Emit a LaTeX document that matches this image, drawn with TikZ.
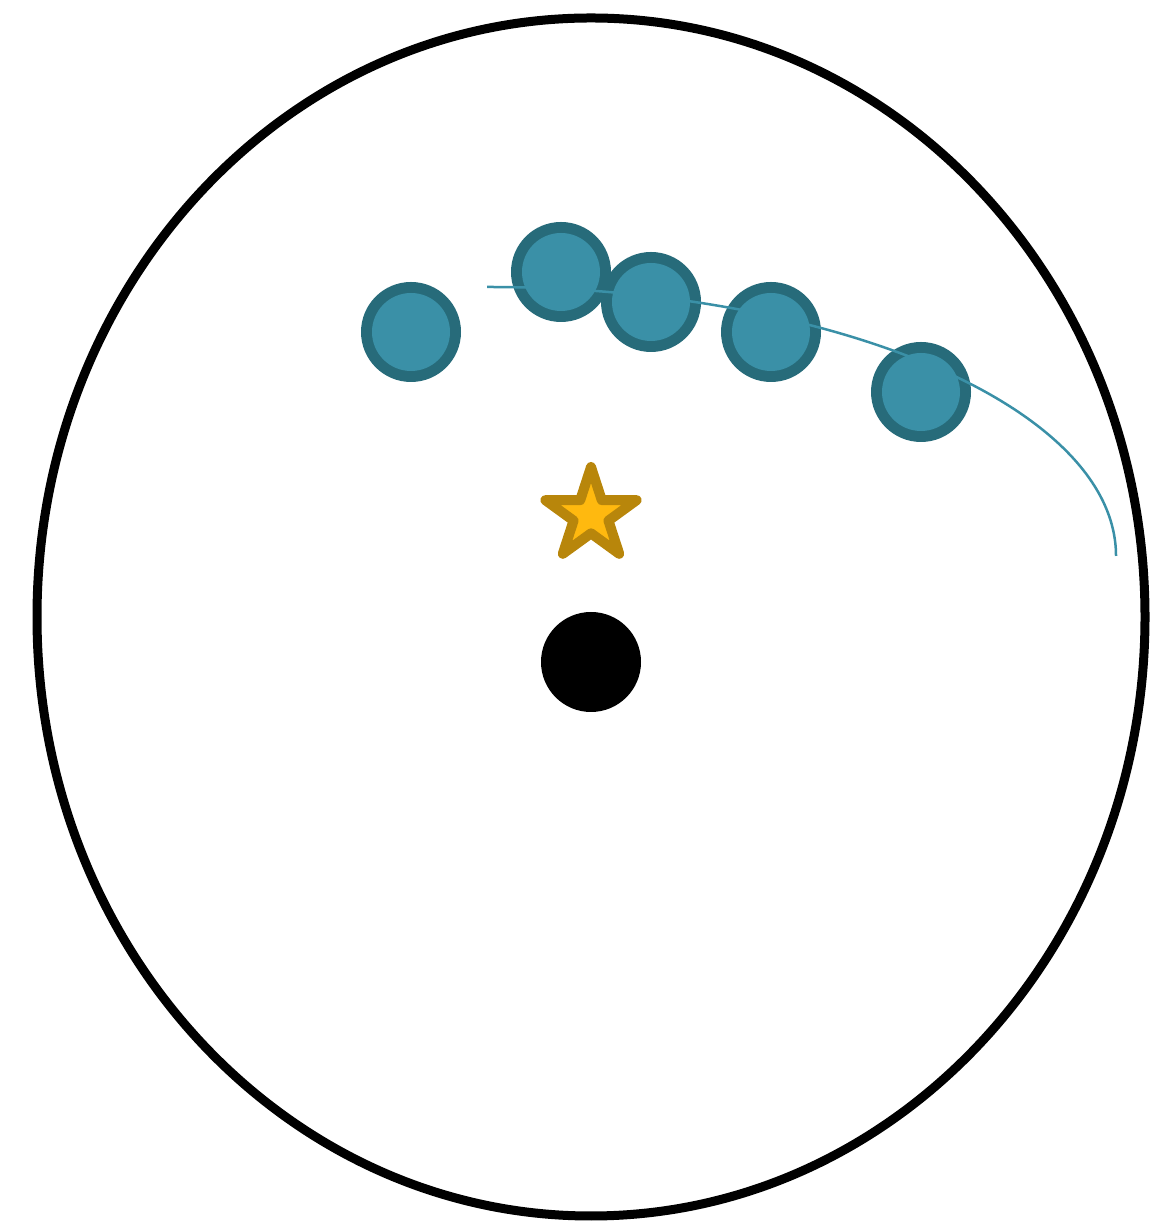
\documentclass[tikz,border=0pt]{standalone}
\usetikzlibrary{shapes.geometric}
\definecolor{tealdark}{HTML}{276B7A}
\definecolor{teallight}{HTML}{3A90A7}
\definecolor{goldfill}{HTML}{FFB90F}
\definecolor{golddark}{HTML}{B8860B}
\begin{document}
\begin{tikzpicture}[
	x=1pt, y=1pt,
	bead/.style={ circle, fill=tealdark, inner sep=0pt, minimum size=100pt },
	core/.style={ teallight },
	starmark/.style={ star, star points=5, star point ratio=2.618, draw=golddark, fill=goldfill, line width=10pt, line join=round, inner sep=0pt, minimum size=96pt },
	hole/.style={ circle, fill=black, inner sep=0pt, minimum size=100pt }
]
\useasboundingbox (0,0) rectangle (1160,1222);

% outer rim
\node at (591,605) (rim) [ellipse, draw, line width=9pt, inner sep=0pt, minimum width=1108pt, minimum height=1198pt] {};

% beads (outer ring)
\node at (411,890) (bead1) [bead] {};
\node at (561,950) (bead2) [bead] {};
\node at (651,920) (bead3) [bead] {};
\node at (771,890) (bead4) [bead] {};
\node at (921,830) (bead5) [bead] {};

% orbit
\coordinate (orbit) at (487,935);
\draw[teallight, line width=2.5pt] (orbit) arc[start angle=90, end angle=0, x radius=629, y radius=269];

% beads (inner fill)
\foreach \b in {bead1,bead2,bead3,bead4,bead5}
	\fill[core] (\b) circle (39);

% star and hole
\node at (591,707) (mark) [starmark] {};
\node at (591,560) (pit) [hole] {};

\end{tikzpicture}
\end{document}
